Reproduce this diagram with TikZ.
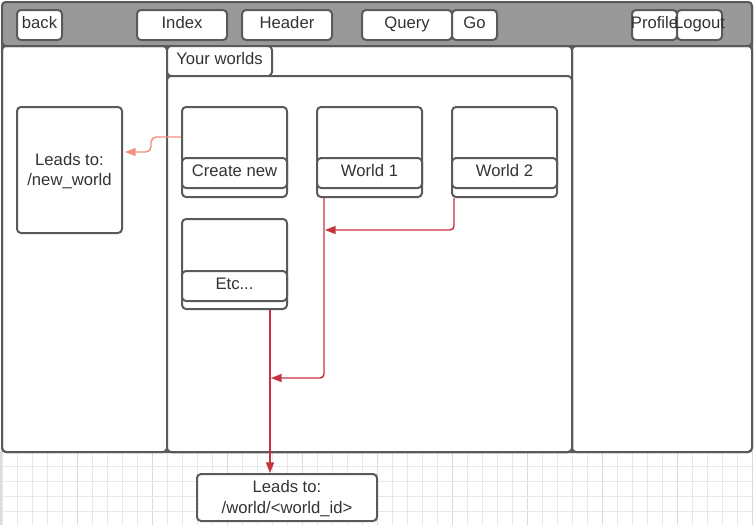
\documentclass[tikz,border=0pt]{standalone}
\usepackage{fontspec}
\setmainfont{Liberation Sans}
\usetikzlibrary{fit,calc,arrows.meta}
\definecolor{edge}{HTML}{5A5A5A}
\definecolor{barc}{HTML}{999999}
\definecolor{txt}{HTML}{333333}
\definecolor{redc}{HTML}{C7323F}
\definecolor{salmonc}{HTML}{F4907F}
\definecolor{gridc}{HTML}{E8E8E8}
\definecolor{gridmaj}{HTML}{DCDCDC}
\begin{document}
\begin{tikzpicture}[x=0.75pt,y=-0.75pt,
  box/.style={draw=edge, line width=1.5pt, rounded corners=3pt, inner sep=0pt,
    font=\fontsize{12.5}{15.5}\selectfont, text=txt, align=center},
  wbox/.style={box, fill=white},
  lbl/.style={text=txt, anchor=base, inner sep=0pt, font=\fontsize{12.5}{14}\selectfont},
  lbltwo/.style={text=txt, align=center, inner sep=0pt, font=\fontsize{12.5}{15.5}\selectfont},
  redarrow/.style={draw=redc, line width=1.1pt, rounded corners=3pt,
    -{Triangle[length=8pt,width=6pt]}},
  salarrow/.style={draw=salmonc, line width=1.1pt, rounded corners=4pt,
    -{Triangle[length=8pt,width=6pt]}}]
\useasboundingbox (0,0) rectangle (754,525);
\fill[white] (0,0) rectangle (754,525);
% background grid
\foreach \x in {2,17,...,752} \draw[gridc, line width=0.75pt] (\x,451) -- (\x,525);
\foreach \x in {77,152,...,752} \draw[gridmaj, line width=0.75pt] (\x,451) -- (\x,525);
\foreach \y in {466,481,496,511} \draw[gridc, line width=0.75pt] (0,\y) -- (754,\y);
\draw[gridmaj, line width=1.5pt] (1,451) -- (1,525);
% frame
\node[wbox, fit={(2,2) (752,452)}] (frame) {};
\node[box, fill=barc, fit={(2,2) (752,46)}] (topbar) {};
% top bar buttons
\node[wbox, fit={(17,10) (62,40)}] (back) {};
\node[lbl] at ($(back.center)+(0,3)$) {back};
\node[wbox, fit={(137,10) (227,40)}] (index) {};
\node[lbl] at ($(index.center)+(0,3)$) {Index};
\node[wbox, fit={(242,10) (332,40)}] (header) {};
\node[lbl] at ($(header.center)+(0,3)$) {Header};
\node[wbox, fit={(362,10) (452,40)}] (query) {};
\node[lbl] at ($(query.center)+(0,3)$) {Query};
\node[wbox, fit={(452,10) (497,40)}] (go) {};
\node[lbl] at ($(go.center)+(0,3)$) {Go};
\node[wbox, fit={(632,10) (677,40)}] (profile) {};
\node[wbox, fit={(677,10) (722,40)}] (logout) {};
\node[lbl] at ($(profile.center)+(0,3)$) {Profile};
\node[lbl] at ($(logout.center)+(0,3)$) {Logout};
% panels
\node[box, fit={(2,46) (167,452)}] (leftpanel) {};
\node[box, fit={(572,46) (752,452)}] (rightpanel) {};
\node[box, fit={(167,46) (572,452)}] (centerpanel) {};
\node[wbox, fit={(167,46) (272,76)}] (tab) {};
\node[lbl] at ($(tab.center)+(0,3.5)$) {Your worlds};
\node[wbox, fit={(167,76) (572,452)}] (inner) {};
% left destination
\node[wbox, fit={(17,107) (122,233)}] (lnew) {};
\node[lbltwo] at ($(lnew.center)+(0,1)$) {Leads to:\\/new\_world};
% cards
\node[wbox, fit={(182,107) (287,197)}] (cnew) {};
\node[wbox, fit={(182,158) (287,188)}] (cnewlab) {};
\node[lbl] at ($(cnewlab.center)+(0,3)$) {Create new};
\node[wbox, fit={(317,107) (422,197)}] (w1) {};
\node[wbox, fit={(317,158) (422,188)}] (w1lab) {};
\node[lbl] at ($(w1lab.center)+(0,3)$) {World 1};
\node[wbox, fit={(452,107) (557,197)}] (w2) {};
\node[wbox, fit={(452,158) (557,188)}] (w2lab) {};
\node[lbl] at ($(w2lab.center)+(0,3)$) {World 2};
\node[wbox, fit={(182,219) (287,309)}] (etc) {};
\node[wbox, fit={(182,271) (287,301)}] (etclab) {};
\node[lbl] at ($(etclab.center)+(0,3)$) {Etc...};
% bottom destination
\node[wbox, fit={(197,474) (377,521)}] (dest) {};
\node[lbltwo] at ($(dest.center)+(0,1)$) {Leads to:\\/world/<world\_id>};
% connectors
\draw[salarrow] ($(cnew.west)+(0,-15)$) -- ($(cnew.west)+(-30,-15)$) -- ($(cnew.west)+(-30,0)$) -- ($(lnew.east)+(2,-18)$);
\draw[redarrow] ($(w2.south west)+(3,0)$) |- ($(w1.south west)+(9,32)$);
\draw[redarrow] ($(w1.south west)+(8,0)$) |- ($(etc.south west)+(90,68)$);
\draw[redarrow] ($(etc.south west)+(89,0)$) -- ($(dest.north west)+(74,0)$);
\end{tikzpicture}
\end{document}
